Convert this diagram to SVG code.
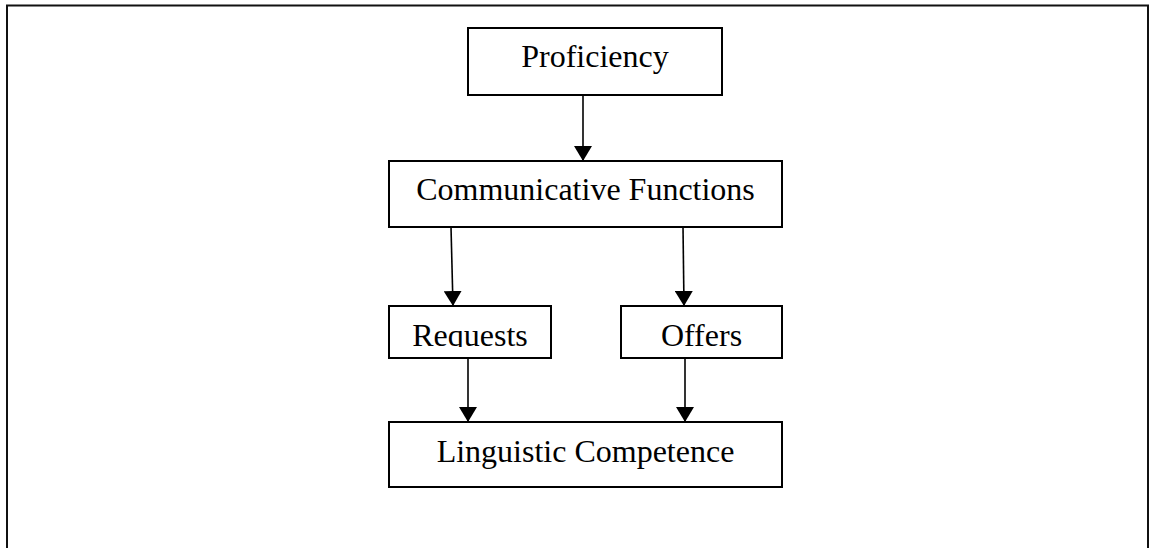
<svg xmlns="http://www.w3.org/2000/svg" width="1149" height="548" viewBox="0 0 1149 548">
<style>
.box{fill:#fff;stroke:#000;stroke-width:2}
.lbl{font-family:"Liberation Serif","Times New Roman",serif;font-size:32px;fill:#000;text-anchor:middle}
.conn{stroke:#000;stroke-width:1.6;fill:none;marker-end:url(#ah)}
</style>
<defs>
<marker id="ah" markerUnits="userSpaceOnUse" markerWidth="16" markerHeight="18" refX="15" refY="9" orient="auto" viewBox="0 0 16 18">
<path d="M0,0 L15,9 L0,18 z" fill="#000"/>
</marker>
<clipPath id="clipReq"><rect x="390" y="307" width="160" height="40"/></clipPath>
</defs>
<rect width="1149" height="548" fill="#fff"/>
<path d="M7,548 V5.5 H1148 V548" fill="none" stroke="#111" stroke-width="2"/>
<g id="connectors">
<line class="conn" x1="583" y1="95" x2="583" y2="161"/>
<line class="conn" x1="451" y1="227" x2="453" y2="306"/>
<line class="conn" x1="683" y1="227" x2="684" y2="306"/>
<line class="conn" x1="468" y1="358" x2="468" y2="422"/>
<line class="conn" x1="685" y1="358" x2="685" y2="422"/>
</g>
<g id="proficiency">
<rect class="box" x="468" y="28" width="254" height="67"/>
<text class="lbl" x="595" y="67">Proficiency</text>
</g>
<g id="communicative">
<rect class="box" x="389" y="161" width="393" height="66"/>
<text class="lbl" x="585.5" y="200">Communicative Functions</text>
</g>
<g id="requests">
<rect class="box" x="389" y="306" width="162" height="52"/>
<text class="lbl" x="470" y="346" clip-path="url(#clipReq)">Requests</text>
</g>
<g id="offers">
<rect class="box" x="621" y="306" width="161" height="52"/>
<text class="lbl" x="701.5" y="346">Offers</text>
</g>
<g id="linguistic">
<rect class="box" x="389" y="422" width="393" height="65"/>
<text class="lbl" x="585.5" y="462">Linguistic Competence</text>
</g>
</svg>
